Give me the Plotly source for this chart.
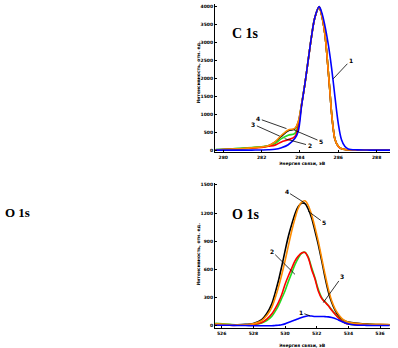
import plotly.graph_objects as go

# ---------------- C 1s data ----------------
energy_c = [279.6, 280.0, 280.5, 281.0, 281.5, 282.0, 282.35, 282.7, 283.04, 283.39, 283.74, 283.91,
            284.09, 284.26, 284.43, 284.6, 284.78, 285.0, 285.13, 285.3, 285.48, 285.57, 285.65,
            285.74, 285.83, 286.0, 286.17, 286.35, 286.52, 287.0, 287.5, 288.0, 288.7]
c_1 = [0, 0, 0, 0, 2, 5, 10, 25, 70, 150, 330, 520, 1250, 1850, 2500, 3150, 3700, 4000, 3850, 3480,
       2950, 2620, 2300, 1900, 1480, 750, 290, 100, 35, 8, 3, 0, 0]
c_2 = [5, 15, 25, 40, 55, 75, 110, 140, 230, 290, 380, 640, 1260, 1840, 2490, 3140, 3690, 3990, 3770,
       3240, 2190, 1590, 1040, 590, 295, 105, 38, 18, 10, 5, 3, 2, 0]
c_3 = [15, 25, 40, 60, 75, 95, 120, 185, 320, 415, 470, 700, 1280, 1845, 2495, 3145, 3695, 3990, 3775,
       3245, 2195, 1595, 1045, 595, 298, 108, 38, 20, 12, 6, 4, 2, 0]
c_4 = [10, 20, 30, 45, 65, 90, 120, 220, 390, 540, 590, 770, 1290, 1850, 2500, 3150, 3700, 3980, 3775,
       3245, 2200, 1600, 1050, 600, 300, 110, 40, 20, 12, 6, 4, 2, 0]
c_5 = [10, 20, 30, 45, 65, 90, 125, 230, 415, 560, 610, 790, 1300, 1850, 2500, 3150, 3700, 4000, 3780,
       3250, 2200, 1600, 1050, 600, 300, 110, 40, 20, 12, 6, 4, 2, 0]

# ---------------- O 1s data ----------------
energy_o = [525.6, 526.5, 527.0, 527.5, 528.0, 528.53, 528.85, 529.16, 529.37, 529.58, 529.79, 530.0,
            530.21, 530.42, 530.63, 530.84, 531.05, 531.26, 531.47, 531.68, 531.89, 532.1, 532.32,
            532.53, 532.74, 532.95, 533.16, 533.37, 533.58, 533.79, 534.0, 534.42, 535.0, 535.5,
            536.0, 536.6]
o_1 = [5, 5, 3, 2, 0, 0, 0, 0, 3, 6, 10, 20, 35, 48, 60, 75, 88, 98, 106, 103, 99, 99, 99, 97, 95,
       88, 78, 62, 46, 30, 18, 8, 5, 3, 3, 3]
o_2 = [15, 5, 5, 8, 15, 35, 70, 124, 180, 247, 330, 440, 530, 610, 690, 741, 775, 780, 723, 600, 500,
       370, 290, 250, 212, 165, 124, 85, 53, 30, 18, 12, 10, 8, 8, 5]
o_3 = [25, 15, 10, 8, 12, 30, 55, 100, 150, 212, 290, 370, 470, 560, 650, 720, 770, 783, 730, 620,
       510, 390, 300, 255, 215, 170, 128, 88, 55, 32, 20, 12, 10, 12, 10, 8]
o_4 = [10, 8, 10, 15, 25, 65, 130, 230, 345, 476, 630, 794, 950, 1076, 1190, 1270, 1305, 1300, 1240,
       1147, 1010, 865, 690, 512, 360, 247, 165, 106, 70, 50, 40, 28, 20, 15, 12, 10]
o_5 = [20, 12, 8, 10, 20, 53, 110, 194, 290, 406, 540, 688, 850, 1006, 1140, 1253, 1315, 1330, 1280,
       1182, 1050, 900, 720, 547, 390, 265, 180, 124, 80, 53, 38, 25, 18, 15, 15, 12]

c_ticks = [280, 282, 284, 286, 288]
c_yticks = [0, 500, 1000, 1500, 2000, 2500, 3000, 3500, 4000]
o_ticks = [526, 528, 530, 532, 534, 536]
o_yticks = [0, 300, 600, 900, 1200, 1500]

colors = {"4": "#000000", "3": "#22dd22", "2": "#ff0000", "5": "#ff8c00", "1": "#0000ff"}
order = ["4", "3", "2", "5", "1"]
c_series = {"1": c_1, "2": c_2, "3": c_3, "4": c_4, "5": c_5}
o_series = {"1": o_1, "2": o_2, "3": o_3, "4": o_4, "5": o_5}

fig = go.Figure()
for k in order:
    fig.add_trace(go.Scatter(x=energy_c, y=c_series[k], mode="lines", line=dict(color=colors[k], width=1.6, shape="spline"),
                             xaxis="x", yaxis="y", showlegend=False, hoverinfo="skip"))
for k in order:
    fig.add_trace(go.Scatter(x=energy_o, y=o_series[k], mode="lines", line=dict(color=colors[k], width=1.6, shape="spline"),
                             xaxis="x2", yaxis="y2", showlegend=False, hoverinfo="skip"))

W, H = 398, 348
tickfont = dict(family="DejaVu Sans", size=4.5, color="black", weight="bold")
axcommon = dict(showgrid=False, zeroline=False, showline=True, linecolor="black", linewidth=1,
                ticks="inside", ticklen=2, tickcolor="black", tickfont=tickfont)

fig.update_layout(
    width=W, height=H, margin=dict(l=0, r=0, t=0, b=0),
    paper_bgcolor="white", plot_bgcolor="white",
    xaxis=dict(domain=[215 / W, 390 / W], range=[279.57, 288.7], tickvals=c_ticks, anchor="y", **axcommon),
    yaxis=dict(domain=[1 - 152 / H, 1 - 3 / H], range=[-55, 4075], tickvals=c_yticks, anchor="x", **axcommon),
    xaxis2=dict(domain=[215 / W, 390 / W], range=[525.58, 536.63], tickvals=o_ticks, anchor="y2", **axcommon),
    yaxis2=dict(domain=[1 - 329 / H, 1 - 183 / H], range=[-25, 1520], tickvals=o_yticks, anchor="x2", **axcommon),
)

ann = []
lblfont = dict(family="DejaVu Sans", size=6, color="black", weight="bold")
def lab(xr, yr, text, x, y, ax, ay):
    ann.append(dict(xref=xr, yref=yr, axref=xr, ayref=yr, x=x, y=y, ax=ax, ay=ay, text=text,
                    showarrow=True, arrowhead=0, arrowwidth=0.8, arrowcolor="black", font=lblfont))

# C 1s labels
lab("x", "y", "1", 285.74, 1990, 286.66, 2513)
lab("x", "y", "4", 283.3, 600, 281.83, 880)
lab("x", "y", "3", 282.95, 390, 281.57, 720)
lab("x", "y", "5", 283.7, 560, 285.1, 240)
lab("x", "y", "2", 283.2, 320, 284.5, 130)
# O 1s labels
lab("x2", "y2", "4", 531.26, 1306, 530.1, 1429)
lab("x2", "y2", "5", 531.47, 1218, 532.48, 1094)
lab("x2", "y2", "2", 530.63, 547, 529.16, 794)
lab("x2", "y2", "3", 532.42, 247, 533.62, 529)
lab("x2", "y2", "1", 531.58, 106, 531.0, 141)

titlefont = dict(family="Liberation Serif", size=14, color="black", weight="bold")
ann.append(dict(xref="paper", yref="paper", x=230 / W, y=1 - 33 / H, text="C 1s", showarrow=False,
                xanchor="left", yanchor="middle", font=titlefont))
ann.append(dict(xref="paper", yref="paper", x=230 / W, y=1 - 215 / H, text="O 1s", showarrow=False,
                xanchor="left", yanchor="middle", font=titlefont))
ann.append(dict(xref="paper", yref="paper", x=3 / W, y=1 - 213 / H, text="O 1s", showarrow=False,
                xanchor="left", yanchor="middle", font=dict(family="Liberation Serif", size=13, color="black", weight="bold")))

axtfont = dict(family="DejaVu Sans", size=4.5, color="black", weight="bold")
ann.append(dict(xref="paper", yref="paper", x=302 / W, y=1 - 163 / H, text="Энергия связи, эВ", showarrow=False,
                xanchor="center", yanchor="middle", font=axtfont))
ann.append(dict(xref="paper", yref="paper", x=302 / W, y=1 - 346 / H, text="Энергия связи, эВ", showarrow=False,
                xanchor="center", yanchor="middle", font=axtfont))
ann.append(dict(xref="paper", yref="paper", x=199 / W, y=1 - 72 / H, text="Интенсивность, отн. ед.", showarrow=False,
                textangle=-90, xanchor="center", yanchor="middle", font=axtfont))
ann.append(dict(xref="paper", yref="paper", x=199 / W, y=1 - 255 / H, text="Интенсивность, отн. ед.", showarrow=False,
                textangle=-90, xanchor="center", yanchor="middle", font=axtfont))
fig.update_layout(annotations=ann)

fig.write_html("out.html")
